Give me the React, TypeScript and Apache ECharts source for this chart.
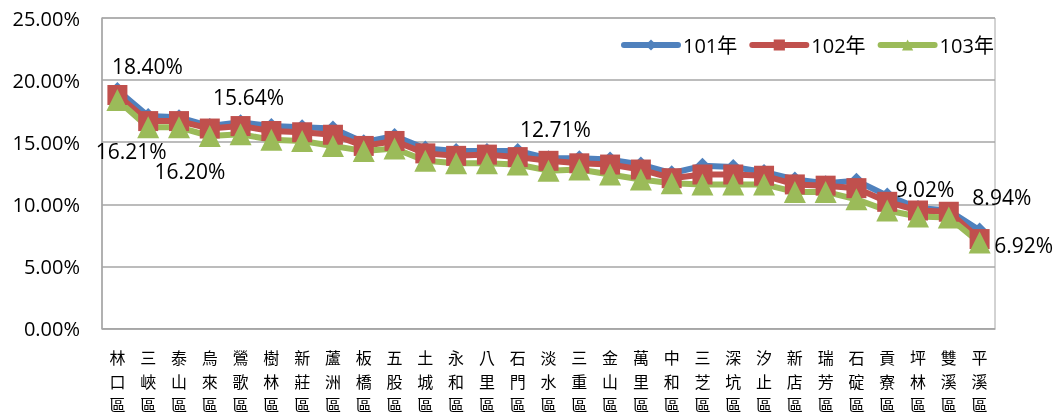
import React, { useEffect, useRef } from "react";
import * as echarts from "echarts";

const categories = [
  "林口區", "三峽區", "泰山區", "烏來區", "鶯歌區", "樹林區", "新莊區", "蘆洲區", "板橋區", "五股區",
  "土城區", "永和區", "八里區", "石門區", "淡水區", "三重區", "金山區", "萬里區", "中和區", "三芝區",
  "深坑區", "汐止區", "新店區", "瑞芳區", "石碇區", "貢寮區", "坪林區", "雙溪區", "平溪區",
];

const series101 = [19.2, 17.1, 17.0, 16.3, 16.6, 16.3, 16.2, 16.1, 15.0, 15.5, 14.5, 14.3, 14.3, 14.3, 13.7, 13.7, 13.6, 13.2, 12.5, 13.1, 13.0, 12.6, 12.0, 11.7, 11.9, 10.7, 9.7, 9.5, 7.9];
const series102 = [18.8, 16.7, 16.7, 16.1, 16.3, 15.9, 15.8, 15.6, 14.7, 15.1, 14.1, 13.9, 14.0, 13.8, 13.5, 13.3, 13.2, 12.8, 12.1, 12.4, 12.4, 12.3, 11.6, 11.5, 11.3, 10.2, 9.5, 9.4, 7.2];
const series103 = [18.40, 16.21, 16.20, 15.5, 15.64, 15.2, 15.1, 14.7, 14.3, 14.5, 13.5, 13.3, 13.3, 13.2, 12.71, 12.8, 12.4, 12.0, 11.7, 11.6, 11.6, 11.6, 11.0, 11.0, 10.4, 9.5, 9.02, 8.94, 6.92];

const seriesNames = ["101年", "102年", "103年"];
const yTicks = [0, 5, 10, 15, 20, 25];

// labelled points of the 103年 series: index -> label offset
const labelOffsets: Record<number, [number, number]> = {
  0: [30, -34],
  1: [-17, 24],
  2: [11, 44],
  4: [8, -37],
  14: [7, -42],
  26: [7, -27],
  27: [53, -20],
  28: [44, 2],
};

const FONT = "'Open Sans', 'Noto Sans CJK TC', sans-serif";

export default function App() {
  const ref = useRef<HTMLDivElement>(null);
  useEffect(() => {
    if (!ref.current) return;
    const chart = echarts.init(ref.current, undefined, { renderer: "svg" });
    const fmt = (v: number) => v.toFixed(2) + "%";
    const greenData = series103.map((v, i) =>
      labelOffsets[i]
        ? {
            value: v,
            label: {
              show: true,
              position: "inside",
              offset: labelOffsets[i],
              formatter: () => fmt(v),
              color: "#000",
              fontSize: 21,
              fontFamily: FONT,
            },
          }
        : v
    );
    chart.setOption({
      animation: false,
      textStyle: { fontFamily: FONT },
      grid: {
        left: 102,
        right: 62,
        top: 18,
        bottom: 83,
        show: true,
        borderColor: "#A6A6A6",
        borderWidth: 1,
      },
      legend: {
        left: 616,
        top: 30,
        itemWidth: 54,
        itemHeight: 14,
        itemGap: 12,
        lineStyle: { width: 6, cap: "round" },
        textStyle: { fontSize: 20, color: "#000", fontFamily: FONT },
        data: seriesNames,
      },
      xAxis: {
        type: "category",
        data: categories,
        boundaryGap: true,
        axisLine: { lineStyle: { color: "#A6A6A6", width: 1.5 } },
        axisTick: { show: false },
        axisLabel: {
          interval: 0,
          margin: 17,
          fontSize: 16,
          lineHeight: 23.5,
          color: "#000",
          fontFamily: "'Noto Sans CJK TC', sans-serif",
          formatter: (v: string) => v.split("").join("\n"),
        },
      },
      yAxis: {
        type: "value",
        min: yTicks[0],
        max: yTicks[yTicks.length - 1],
        interval: 5,
        axisLine: { show: true, lineStyle: { color: "#A6A6A6", width: 1.5 } },
        axisTick: { show: false },
        splitLine: { lineStyle: { color: "#A6A6A6", width: 1.5 } },
        axisLabel: {
          margin: 22,
          fontSize: 20,
          color: "#000",
          fontFamily: FONT,
          formatter: (v: number) => fmt(v),
        },
      },
      series: [
        {
          name: seriesNames[0],
          type: "line",
          data: series101,
          symbol: "diamond",
          symbolSize: 16,
          lineStyle: { width: 6, color: "#4F81BD" },
          itemStyle: { color: "#4F81BD" },
        },
        {
          name: seriesNames[1],
          type: "line",
          data: series102,
          symbol: "rect",
          symbolSize: 20,
          lineStyle: { width: 6, color: "#C0504D" },
          itemStyle: { color: "#C0504D" },
        },
        {
          name: seriesNames[2],
          type: "line",
          data: greenData,
          symbol: "triangle",
          symbolSize: 22,
          lineStyle: { width: 6, color: "#9BBB59" },
          itemStyle: { color: "#9BBB59" },
        },
      ],
    });
    return () => chart.dispose();
  }, []);
  return (
    <div
      ref={ref}
      style={{ position: "fixed", left: 0, top: 0, width: 1057, height: 416 }}
    />
  );
}
